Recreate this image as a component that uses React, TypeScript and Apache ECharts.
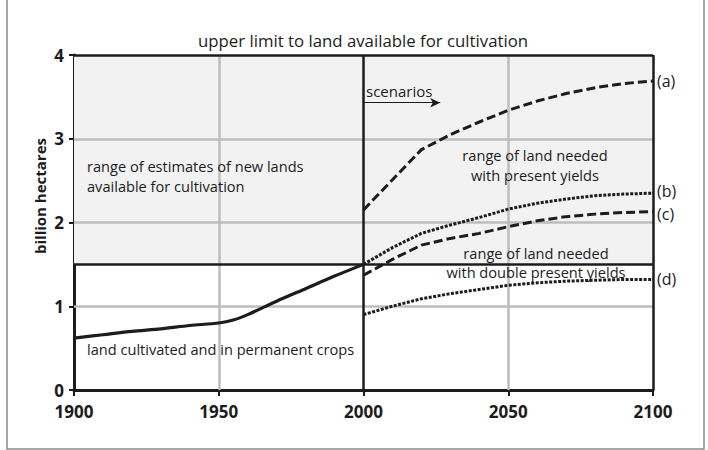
import React, { useEffect, useRef } from "react";
import * as echarts from "echarts";

const xTicks = [1900, 1950, 2000, 2050, 2100];
const yTicks = [0, 1, 2, 3, 4];

const historyYears = [1900, 1910, 1920, 1930, 1940, 1950, 1955, 1960, 1970, 1980, 1990, 2000];
const historyValues = [0.62, 0.66, 0.7, 0.73, 0.77, 0.8, 0.835, 0.9, 1.06, 1.21, 1.36, 1.5];

const scenarioAYears = [2000, 2020, 2030, 2040, 2050, 2060, 2070, 2080, 2090, 2100];
const scenarioAValues = [2.15, 2.87, 3.05, 3.2, 3.34, 3.45, 3.54, 3.61, 3.66, 3.69];

const scenarioYears = [2000, 2010, 2020, 2030, 2040, 2050, 2060, 2070, 2080, 2090, 2100];
const scenarioBValues = [1.5, 1.7, 1.87, 1.97, 2.06, 2.16, 2.23, 2.28, 2.32, 2.34, 2.35];
const scenarioCValues = [1.37, 1.56, 1.73, 1.81, 1.87, 1.95, 2.02, 2.07, 2.1, 2.12, 2.13];
const scenarioDValues = [0.9, 1.0, 1.09, 1.15, 1.2, 1.25, 1.28, 1.3, 1.31, 1.32, 1.32];

const upperLimit = 1.5;

const FONT = "'Open Sans', 'Noto Sans', sans-serif";
const INK = "#1c1c1c";

const zip = (xs: number[], ys: number[]) => xs.map((x, i) => [x, ys[i]]);

export default function App() {
  const ref = useRef<HTMLDivElement>(null);
  useEffect(() => {
    if (!ref.current) return;
    const chart = echarts.init(ref.current, undefined, { renderer: "svg" });
    const xMin = xTicks[0];
    const xMax = xTicks[xTicks.length - 1];
    const yMin = yTicks[0];
    const yMax = yTicks[yTicks.length - 1];
    const gridColor = "#bdbdbd";
    const frame = { color: INK, width: 2.5, type: "solid" as const };
    const note = (text: string, x: number, y: number, align = "left", size = 14.6, lineHeight = 20) => ({
      type: "text",
      x,
      y,
      z: 20,
      style: {
        text,
        fill: INK,
        fontFamily: FONT,
        fontSize: size,
        lineHeight,
        align,
        verticalAlign: "middle",
      },
    });

    const scenario = (name: string, data: number[][], dash: number[], label: string, offsetY = 0) => ({
      type: "line",
      name,
      z: 5,
      data,
      symbol: "none",
      smooth: false,
      lineStyle: { color: INK, width: 3, type: dash },
      endLabel: {
        show: true,
        formatter: label,
        color: INK,
        fontFamily: FONT,
        fontSize: 16,
        distance: 4,
        offset: [0, offsetY],
      },
    });

    chart.setOption({
      animation: false,
      backgroundColor: "#ffffff",
      grid: { left: 74, right: 55, top: 55, bottom: 60, containLabel: false },
      xAxis: {
        type: "value",
        min: xMin,
        max: xMax,
        interval: 50,
        axisLine: { show: true, lineStyle: { color: INK, width: 3 } },
        axisTick: { show: true, length: 6, lineStyle: { color: INK, width: 2 } },
        splitLine: { show: false },
        axisLabel: {
          color: INK,
          fontFamily: FONT,
          fontWeight: "bold",
          fontSize: 17,
          lineHeight: 17,
          margin: 13,
          formatter: (v: number) => String(v),
        },
      },
      yAxis: {
        type: "value",
        min: yMin,
        max: yMax,
        interval: 1,
        axisLine: { show: true, lineStyle: { color: INK, width: 3 } },
        axisTick: { show: true, length: 5, lineStyle: { color: INK, width: 2 } },
        splitLine: { show: false },
        axisLabel: {
          color: INK,
          fontFamily: FONT,
          fontWeight: "bold",
          fontSize: 17,
          lineHeight: 15,
          margin: 10,
        },
      },
      graphic: [
        {
          type: "rect",
          shape: { x: 7, y: -5, width: 697, height: 454 },
          style: { fill: "none", stroke: "#8a8a8a", lineWidth: 1.5 },
          z: -10,
        },
        {
          type: "text",
          x: 40,
          y: 196,
          rotation: Math.PI / 2,
          z: 20,
          style: {
            text: "billion hectares",
            fill: INK,
            fontFamily: FONT,
            fontWeight: "bold",
            fontSize: 15,
            align: "center",
            verticalAlign: "middle",
          },
        },
        note("upper limit to land available for cultivation", 363, 40, "center", 16.8),
        note("scenarios", 366, 91, "left", 15),
        note("range of estimates of new lands\navailable for cultivation", 87, 176),
        note("range of land needed\nwith present yields", 535, 165, "center"),
        note("range of land needed\nwith double present yields", 536, 262.5, "center", 14.6, 18.5),
        note("land cultivated and in permanent crops", 87, 349),
      ],
      series: [
        {
          type: "line",
          name: "shade",
          z: 1,
          data: [],
          markArea: {
            silent: true,
            itemStyle: { color: "#f2f2f2" },
            data: [[{ coord: [xMin, upperLimit] }, { coord: [xMax, yMax] }]],
          },
        },
        {
          type: "line",
          name: "grid",
          z: 2,
          data: [],
          markLine: {
            silent: true,
            symbol: "none",
            label: { show: false },
            lineStyle: { color: gridColor, width: 2.5, type: "solid" },
            data: [
              [{ coord: [1950, yMin] }, { coord: [1950, yMax] }],
              [{ coord: [2050, yMin] }, { coord: [2050, yMax] }],
              [{ coord: [xMin, 1] }, { coord: [xMax, 1] }],
              [{ coord: [xMin, 2] }, { coord: [xMax, 2] }],
              [{ coord: [xMin, 3] }, { coord: [xMax, 3] }],
            ],
          },
        },
        {
          type: "line",
          name: "frame",
          z: 3,
          data: [],
          markLine: {
            silent: true,
            symbol: "none",
            label: { show: false },
            lineStyle: frame,
            data: [
              [{ coord: [xMin, yMax] }, { coord: [xMax, yMax] }],
              [{ coord: [xMax, yMin] }, { coord: [xMax, yMax] }],
              [{ coord: [2000, yMin] }, { coord: [2000, yMax] }],
              [{ coord: [xMin, upperLimit] }, { coord: [xMax, upperLimit] }],
            ],
          },
        },
        {
          type: "line",
          name: "arrow",
          z: 3,
          data: [],
          markLine: {
            silent: true,
            symbol: ["none", "arrow"],
            symbolSize: [7, 10],
            label: { show: false },
            lineStyle: { color: INK, width: 1, type: "solid" },
            data: [[{ coord: [2000, 3.43] }, { coord: [2026.5, 3.43] }]],
          },
        },
        {
          type: "line",
          name: "history",
          z: 5,
          data: zip(historyYears, historyValues),
          symbol: "none",
          smooth: 0.3,
          lineStyle: { color: INK, width: 3.2 },
        },
        scenario("a", zip(scenarioAYears, scenarioAValues), [9, 4], "(a)"),
        scenario("b", zip(scenarioYears, scenarioBValues), [3, 1.5], "(b)", -2),
        scenario("c", zip(scenarioYears, scenarioCValues), [9, 4], "(c)", 2),
        scenario("d", zip(scenarioYears, scenarioDValues), [3, 1.5], "(d)"),
      ],
    });
    return () => chart.dispose();
  }, []);
  return (
    <div style={{ position: "fixed", left: 0, top: 0, width: 708, height: 450, background: "#fff" }}>
      <div ref={ref} style={{ width: 708, height: 450 }} />
    </div>
  );
}
